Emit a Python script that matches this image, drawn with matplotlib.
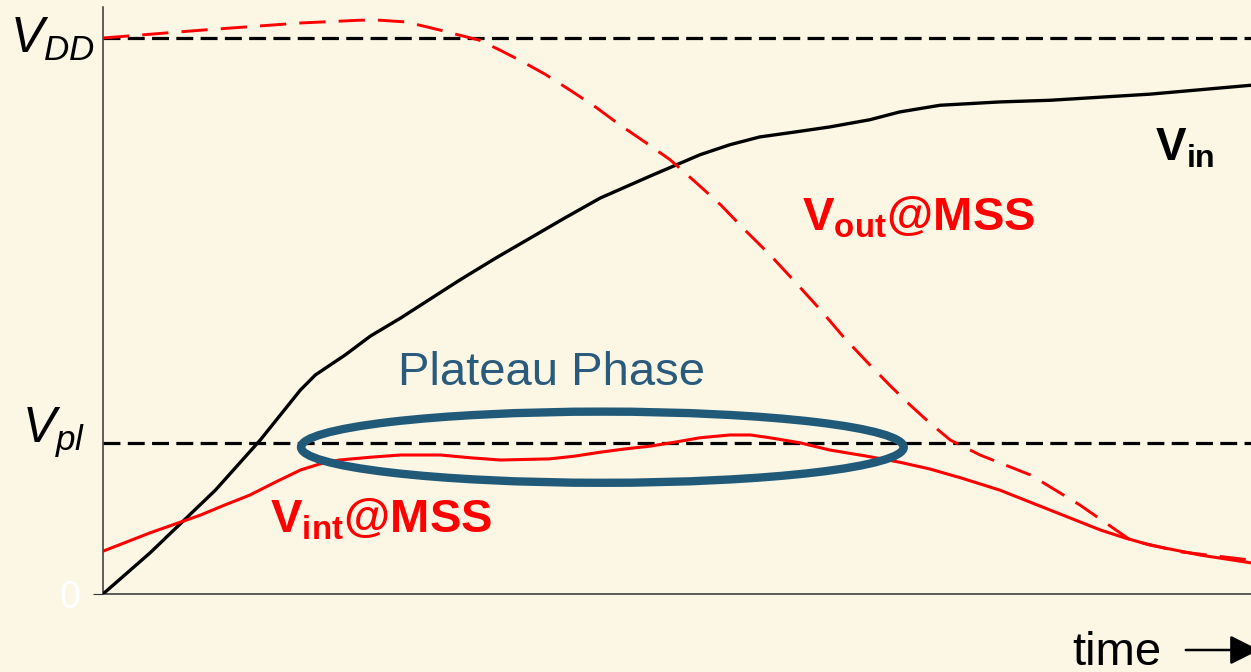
import matplotlib
matplotlib.use("Agg")
import matplotlib.pyplot as plt
from matplotlib.patches import Ellipse, FancyArrowPatch

plt.rcParams['font.family'] = ['Liberation Sans', 'DejaVu Sans']
plt.rcParams['mathtext.fontset'] = 'custom'
plt.rcParams['mathtext.rm'] = 'Liberation Sans'
plt.rcParams['mathtext.it'] = 'Liberation Sans:italic'
plt.rcParams['mathtext.bf'] = 'Liberation Sans:bold'

BG = '#FCF7E5'
BLUE = '#215A79'

# levels, normalised to V_DD
V_DD = 1.0
V_PL = 0.272

# input voltage
t_in = [0, 4.1, 9.8, 13.7, 17.2, 18.5, 21.1, 23.3, 25.9, 31.1, 34.2, 37.2,
        40.2, 43.3, 47.7, 52.0, 54.6, 57.2, 60.3, 63.3, 66.8, 69.4, 72.9,
        78.1, 82.5, 91.2, 100]
v_in = [0, 0.074, 0.187, 0.277, 0.367, 0.394, 0.430, 0.464, 0.496, 0.565,
        0.604, 0.640, 0.676, 0.712, 0.752, 0.790, 0.808, 0.822, 0.831, 0.840,
        0.853, 0.867, 0.879, 0.885, 0.888, 0.899, 0.915]

# output voltage at the MSS
t_out = [0, 8.5, 17.2, 22.4, 24.1, 26.3, 27.6, 29.4, 30.7, 32.8, 34.6, 36.3,
         38.5, 40.7, 42.9, 45.0, 47.2, 49.4, 51.6, 53.8, 55.9, 58.1, 60.3,
         62.5, 64.6, 66.8, 68.6, 70.3, 72.0, 73.8, 76.4, 80.8, 85.1, 89.5,
         93.8, 100]
v_out = [1.0, 1.014, 1.027, 1.032, 1.032, 1.029, 1.023, 1.014, 1.007, 0.996,
         0.978, 0.960, 0.935, 0.906, 0.876, 0.844, 0.813, 0.781, 0.741, 0.700,
         0.655, 0.610, 0.561, 0.511, 0.460, 0.412, 0.374, 0.340, 0.308, 0.277,
         0.250, 0.214, 0.160, 0.097, 0.076, 0.061]

# internal node voltage at the MSS
t_int = [0, 4.1, 8.5, 10.6, 12.8, 15.0, 17.2, 18.9, 20.6, 23.3, 25.9, 29.4,
         32.0, 34.6, 38.9, 41.1, 43.3, 45.5, 47.7, 49.8, 52.0, 54.6, 56.4,
         58.1, 60.7, 63.3, 66.5, 69.4, 72.0, 74.7, 78.1, 80.3, 82.5, 84.7,
         86.9, 89.0, 91.2, 93.4, 95.6, 100]
v_int = [0.077, 0.110, 0.142, 0.160, 0.178, 0.201, 0.223, 0.234, 0.241,
         0.246, 0.250, 0.250, 0.245, 0.241, 0.243, 0.248, 0.255, 0.261,
         0.266, 0.273, 0.281, 0.286, 0.286, 0.281, 0.272, 0.259, 0.248,
         0.237, 0.225, 0.209, 0.187, 0.169, 0.151, 0.133, 0.115, 0.101,
         0.088, 0.079, 0.070, 0.056]

fig = plt.figure(figsize=(12.51, 6.72), dpi=100, facecolor=BG)
ax = fig.add_axes([103 / 1251, 78 / 672, 1148 / 1251, 587 / 672])
ax.set_facecolor(BG)
ax.set_xlim(0, 100)
ax.set_ylim(0, 587 / 556)

for side in ('top', 'right'):
    ax.spines[side].set_visible(False)
for side in ('left', 'bottom'):
    ax.spines[side].set_color('#333333')
    ax.spines[side].set_linewidth(1.1)
ax.set_xticks([])
ax.set_yticks([0])
ax.set_yticklabels(['0'])
ax.tick_params(axis='y', length=7, color='#333333', pad=9,
               labelsize=27, labelcolor='white')

ax.axhline(V_DD, color='black', lw=2.3, dashes=(5.3, 2.3), zorder=2)
ax.axhline(V_PL, color='black', lw=2.3, dashes=(5.3, 2.3), zorder=2)

ax.plot(t_in, v_in, color='black', lw=2.4, zorder=3)
ax.plot(t_out, v_out, color='red', lw=2.1, dashes=(9, 4.5), zorder=3)
ax.plot(t_int, v_int, color='red', lw=2.2, zorder=3)

ax.add_patch(Ellipse((43.5, 0.264), 52.5, 0.128, fill=False,
                     edgecolor=BLUE, lw=6.0, zorder=4))
ax.text(39.1, 0.398, 'Plateau Phase', color='#2A5A7C', fontsize=34,
        ha='center', va='center')


def px(x, y):
    return x / 1251, 1 - y / 672


fig.text(*px(10, 53), r'$\mathit{V_{DD}}$', fontsize=36, ha='left',
         va='baseline')
fig.text(*px(22, 443), r'$\mathit{V_{pl}}$', fontsize=36, ha='left',
         va='baseline')
fig.text(*px(1155, 160), r'$\mathbf{V_{in}}$', fontsize=33, ha='left',
         va='baseline')
fig.text(*px(802, 230), r'$\mathbf{V_{out}@MSS}$', fontsize=34,
         color='red', ha='left', va='baseline')
fig.text(*px(270, 533), r'$\mathbf{V_{int}@MSS}$', fontsize=34,
         color='red', ha='left', va='baseline')
fig.text(*px(1072, 665), 'time', fontsize=34, ha='left', va='baseline')
fig.patches.append(FancyArrowPatch(
    px(1183, 650), px(1262, 650), transform=fig.transFigure,
    arrowstyle='-|>,head_length=0.9,head_width=0.45', color='black', lw=1.8,
    mutation_scale=20))

fig.savefig('out.png', dpi=100, facecolor=BG)
